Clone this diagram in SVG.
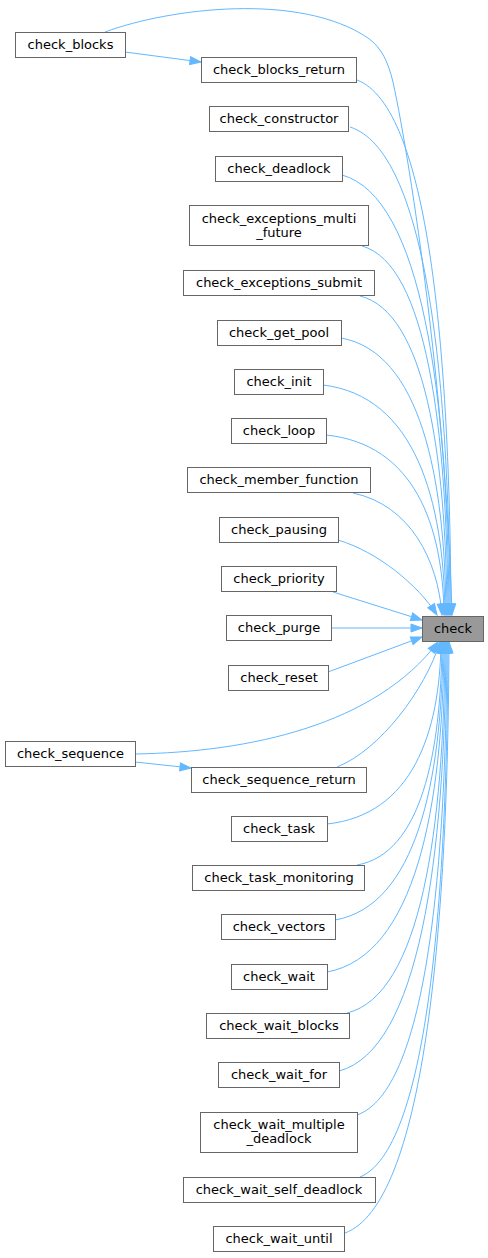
<svg xmlns="http://www.w3.org/2000/svg" width="488" height="1258" viewBox="0 0 488 1258">
<style>
.n rect{fill:#ffffff;stroke:#666666;stroke-width:1}
.n.hl rect{fill:#999999}
.n text{font-family:"DejaVu Sans","Liberation Sans",sans-serif;font-size:13px;fill:#000000;text-anchor:middle}
.e path{fill:none;stroke:#63b8ff;stroke-width:1;marker-end:url(#ah)}
</style>
<defs>
<marker id="ah" markerWidth="12" markerHeight="9" refX="11" refY="4" orient="auto" markerUnits="userSpaceOnUse" overflow="visible">
<path d="M0,0 L11,4 L0,8 z" fill="#63b8ff" stroke="#63b8ff" stroke-width="1"/>
</marker>
</defs>
<g id="edges" class="e">
<path d="M125,52 L201,62"/>
<path d="M105,32 C170,8 300,-8 368,38 C382,48 388,62 393,82 C412,170 446,400 452,615"/>
<path d="M357,80 C428,107 450,347 451,615"/>
<path d="M350,127 C425,151 449,371 450,615"/>
<path d="M342,175 C422,197 448,395 449,615"/>
<path d="M362,246 C427,264 447,430 448,615"/>
<path d="M360,296 C425,312 446,455 447,615"/>
<path d="M341,338 C420,352 445,476 446,615"/>
<path d="M323,385 C415,396 444,500 445,615"/>
<path d="M326,435 C414,444 443,525 444,615"/>
<path d="M353,493 C410,505 438,560 442,615"/>
<path d="M338,540 C378,552 418,585 437,615"/>
<path d="M333,592 L422,620"/>
<path d="M331,628 L422,628"/>
<path d="M328,672 L422,637"/>
<path d="M135,754 C250,752 375,725 438,642"/>
<path d="M135,762 L191,768"/>
<path d="M337,767 C380,750 425,690 440,642"/>
<path d="M327,824 C412,815 440,733 441,642"/>
<path d="M357,865 C421,854 441,754 442,642"/>
<path d="M335,920 C416,906 442,781 443,642"/>
<path d="M327,972 C415,956 443,807 444,642"/>
<path d="M347,1013 C421,995 444,828 445,642"/>
<path d="M339,1071 C419,1050 445,857 446,642"/>
<path d="M357,1115 C425,1091 446,879 447,642"/>
<path d="M360,1177 C426,1150 447,910 448,642"/>
<path d="M345,1233 C423,1204 448,938 449,642"/>
</g>
<g id="node_check" class="n hl"><rect x="422.5" y="616.5" width="61" height="25"/><text x="453" y="633">check</text></g>
<g id="node_check_blocks" class="n"><rect x="15.5" y="32.5" width="110" height="25"/><text x="70.5" y="49">check_blocks</text></g>
<g id="node_check_blocks_return" class="n"><rect x="201.5" y="57.5" width="155" height="25"/><text x="279" y="74">check_blocks_return</text></g>
<g id="node_check_constructor" class="n"><rect x="209.5" y="106.5" width="139" height="25"/><text x="279" y="123">check_constructor</text></g>
<g id="node_check_deadlock" class="n"><rect x="215.5" y="156.5" width="127" height="25"/><text x="279" y="173">check_deadlock</text></g>
<g id="node_check_exceptions_multi_future" class="n"><rect x="189.5" y="205.5" width="179" height="40"/><text x="279" y="222.5">check_exceptions_multi</text><text x="279" y="237">_future</text></g>
<g id="node_check_exceptions_submit" class="n"><rect x="183.5" y="270.5" width="191" height="25"/><text x="279" y="287">check_exceptions_submit</text></g>
<g id="node_check_get_pool" class="n"><rect x="217.5" y="320.5" width="124" height="25"/><text x="279" y="337">check_get_pool</text></g>
<g id="node_check_init" class="n"><rect x="234.5" y="369.5" width="89" height="25"/><text x="279" y="386">check_init</text></g>
<g id="node_check_loop" class="n"><rect x="231.5" y="418.5" width="95" height="25"/><text x="279" y="435">check_loop</text></g>
<g id="node_check_member_function" class="n"><rect x="187.5" y="467.5" width="183" height="25"/><text x="279" y="484">check_member_function</text></g>
<g id="node_check_pausing" class="n"><rect x="219.5" y="517.5" width="119" height="25"/><text x="279" y="534">check_pausing</text></g>
<g id="node_check_priority" class="n"><rect x="221.5" y="566.5" width="115" height="25"/><text x="279" y="583">check_priority</text></g>
<g id="node_check_purge" class="n"><rect x="226.5" y="615.5" width="105" height="25"/><text x="279" y="632">check_purge</text></g>
<g id="node_check_reset" class="n"><rect x="228.5" y="665.5" width="100" height="25"/><text x="279" y="682">check_reset</text></g>
<g id="node_check_sequence" class="n"><rect x="5.5" y="741.5" width="130" height="25"/><text x="70.5" y="758">check_sequence</text></g>
<g id="node_check_sequence_return" class="n"><rect x="191.5" y="767.5" width="175" height="25"/><text x="279" y="784">check_sequence_return</text></g>
<g id="node_check_task" class="n"><rect x="231.5" y="816.5" width="96" height="25"/><text x="279" y="833">check_task</text></g>
<g id="node_check_task_monitoring" class="n"><rect x="192.5" y="865.5" width="172" height="25"/><text x="279" y="882">check_task_monitoring</text></g>
<g id="node_check_vectors" class="n"><rect x="221.5" y="914.5" width="114" height="25"/><text x="279" y="931">check_vectors</text></g>
<g id="node_check_wait" class="n"><rect x="231.5" y="964.5" width="96" height="25"/><text x="279" y="981">check_wait</text></g>
<g id="node_check_wait_blocks" class="n"><rect x="206.5" y="1013.5" width="143" height="25"/><text x="279" y="1030">check_wait_blocks</text></g>
<g id="node_check_wait_for" class="n"><rect x="218.5" y="1062.5" width="121" height="25"/><text x="279" y="1079">check_wait_for</text></g>
<g id="node_check_wait_multiple_deadlock" class="n"><rect x="200.5" y="1112.5" width="157" height="40"/><text x="279" y="1128.5">check_wait_multiple</text><text x="279" y="1143">_deadlock</text></g>
<g id="node_check_wait_self_deadlock" class="n"><rect x="183.5" y="1177.5" width="192" height="25"/><text x="279" y="1194">check_wait_self_deadlock</text></g>
<g id="node_check_wait_until" class="n"><rect x="213.5" y="1226.5" width="131" height="25"/><text x="279" y="1243">check_wait_until</text></g>
</svg>
